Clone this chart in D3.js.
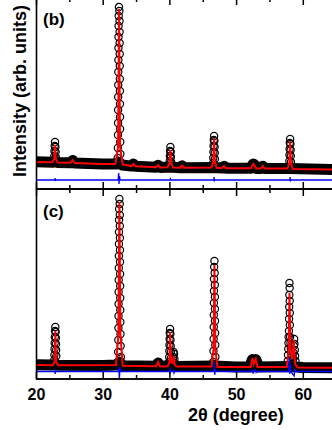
<!DOCTYPE html>
<html>
<head>
<meta charset="utf-8">
<script src="https://cdn.jsdelivr.net/npm/d3@7"></script>
<style>
  body { margin: 0; background: #fff; }
  svg { display: block; font-family: "Liberation Sans", Arial, sans-serif; font-weight: bold; }
</style>
</head>
<body>
<svg id="chart" width="332" height="430" viewBox="0 0 332 430"></svg>
<script>
// 2theta ticks (70 lies past the right edge of the crop)
const majorTicks = [20, 30, 40, 50, 60];
const minorTicks = [25, 35, 45, 55, 65];

// panel (b): [2theta, counts]
const bandB = [[20, 272], [22.5, 268], [22.85, 275], [23.2, 266], [25.2, 262], [25.5, 285], [25.8, 261],
  [30, 250], [32.0, 250], [32.45, 265], [32.9, 240], [34.3, 229], [34.6, 250], [34.9, 227],
  [38.0, 218], [38.3, 238], [38.6, 216], [40.15, 220], [41.6, 213], [41.9, 232], [42.2, 212],
  [46.7, 214], [47.9, 209], [48.2, 228], [48.5, 208], [52.2, 207], [52.45, 240], [52.6, 250],
  [52.75, 240], [53.0, 206], [53.7, 205], [54.0, 228], [54.3, 204], [58.1, 204], [65, 195], [70, 190]];
const obsB = [
  [22.85, 470], [22.80, 430], [22.91, 420], [22.77, 380], [22.94, 370], [22.75, 330], [22.96, 320], [22.73, 290],
  [32.44, 1820], [32.50, 1780], [32.40, 1730], [32.52, 1680], [32.38, 1630], [32.53, 1570], [32.37, 1520],
  [32.54, 1460], [32.36, 1410], [32.55, 1350], [32.35, 1290], [32.56, 1230], [32.34, 1170], [32.57, 1100],
  [32.33, 1040], [32.58, 980], [32.32, 920], [32.59, 850], [32.31, 790], [32.60, 720], [32.30, 660],
  [32.61, 600], [32.29, 540], [32.63, 470], [32.27, 410], [32.65, 350], [32.25, 310],
  [40.15, 420], [40.10, 380], [40.20, 370], [40.07, 330], [40.23, 320], [40.05, 280], [40.26, 270],
  [46.70, 530], [46.65, 490], [46.75, 480], [46.62, 430], [46.78, 420], [46.60, 370], [46.80, 360],
  [46.58, 310], [46.82, 300], [46.56, 260],
  [58.10, 500], [58.05, 460], [58.15, 450], [58.02, 400], [58.18, 390], [58.00, 340], [58.20, 330],
  [57.98, 280], [58.22, 270]];
const calcB = [[20, 270], [22.45, 267], [22.73, 300], [22.85, 440], [22.97, 300], [23.25, 266],
  [25.2, 262], [25.5, 290], [25.8, 261], [30, 250], [31.9, 250], [32.30, 420], [32.45, 1800],
  [32.60, 420], [33.0, 245], [34.3, 229], [34.6, 250], [34.9, 227], [38.0, 218], [38.3, 240],
  [38.6, 216], [39.75, 218], [40.03, 260], [40.15, 390], [40.27, 260], [40.55, 214], [41.6, 213],
  [41.9, 235], [42.2, 212], [46.3, 214], [46.58, 270], [46.70, 510], [46.82, 270], [47.1, 210],
  [47.9, 209], [48.2, 230], [48.5, 208], [52.2, 207], [52.6, 250], [53.0, 206], [53.7, 205],
  [54.0, 230], [54.3, 204], [57.7, 204], [57.98, 260], [58.10, 480], [58.22, 260], [58.5, 200],
  [65, 195], [70, 190]];
const diffB = [[20, 90], [22.8, 90], [22.85, 110], [22.9, 80], [22.95, 90], [32.3, 90], [32.4, 160],
  [32.45, 50], [32.52, 130], [32.6, 90], [40.1, 90], [40.15, 100], [40.2, 90], [46.65, 90],
  [46.7, 120], [46.75, 85], [46.8, 90], [58.05, 90], [58.1, 120], [58.15, 85], [58.2, 90], [70, 90]];

// panel (c): [2theta, counts]
const bandC = [[20, 142], [22.5, 139], [22.9, 150], [23.3, 138], [30, 134], [32.0, 140], [32.5, 170],
  [33.0, 133], [38.0, 127], [38.3, 160], [38.6, 126], [40.1, 135], [41.0, 124], [46.75, 130],
  [50, 120], [52.2, 121], [52.3, 170], [52.45, 195], [52.7, 188], [52.95, 195], [53.1, 170],
  [53.2, 120], [58.0, 125], [60, 115], [65, 112], [70, 110]];
const obsC = [
  [22.90, 520], [22.85, 480], [22.95, 470], [22.82, 420], [22.98, 410], [22.80, 360], [23.00, 350],
  [22.78, 300], [23.02, 290], [22.76, 240], [23.04, 230], [22.74, 190],
  [32.50, 1800], [32.55, 1750], [32.46, 1700], [32.56, 1640], [32.45, 1590], [32.57, 1530], [32.44, 1470],
  [32.58, 1410], [32.43, 1350], [32.59, 1290], [32.42, 1230], [32.60, 1170], [32.41, 1110], [32.61, 1050],
  [32.40, 990], [32.62, 930], [32.39, 870], [32.63, 810], [32.38, 750], [32.64, 690], [32.37, 630],
  [32.65, 570], [32.36, 510], [32.67, 450], [32.34, 390], [32.69, 330], [32.32, 270], [32.72, 220],
  [40.10, 500], [40.05, 460], [40.15, 450], [40.03, 400], [40.17, 390], [40.01, 340], [40.19, 330],
  [39.99, 280], [40.21, 270], [39.97, 220], [40.23, 210], [39.94, 170],
  [40.62, 270], [40.70, 250], [40.56, 220], [40.75, 200], [40.52, 170], [40.80, 160],
  [46.75, 1180], [46.71, 1120], [46.79, 1060], [46.69, 1000], [46.81, 940], [46.68, 880], [46.82, 820],
  [46.67, 760], [46.83, 700], [46.66, 640], [46.84, 580], [46.65, 520], [46.86, 460], [46.63, 400],
  [46.88, 340], [46.61, 280], [46.90, 220], [46.58, 170],
  [58.00, 960], [58.03, 910], [57.98, 840], [58.04, 780], [57.96, 720], [58.05, 660], [57.94, 600],
  [58.06, 540], [57.92, 480], [58.10, 420], [57.88, 420], [58.15, 360], [57.85, 360], [58.20, 300],
  [57.82, 300], [58.30, 250], [57.78, 240], [58.40, 220], [57.75, 180],
  [58.70, 400], [58.75, 350], [58.65, 330], [58.80, 290], [58.62, 260], [58.85, 230], [58.55, 200], [58.90, 180]];
const calcC = [[20, 140], [22.5, 138], [22.78, 170], [22.9, 480], [23.02, 170], [23.3, 137],
  [32.0, 140], [32.35, 450], [32.5, 1770], [32.65, 450], [33.0, 132], [38.0, 127], [38.3, 170],
  [38.6, 126], [39.75, 128], [40.0, 170], [40.1, 470], [40.25, 170], [40.5, 160], [40.65, 230],
  [40.8, 140], [41.1, 124], [46.3, 125], [46.62, 300], [46.75, 1140], [46.88, 300], [47.2, 121],
  [52.2, 120], [52.45, 210], [52.65, 150], [52.95, 200], [53.2, 119], [57.6, 120], [57.88, 300],
  [58.0, 860], [58.15, 300], [58.4, 200], [58.65, 390], [58.85, 150], [59.2, 115], [65, 112], [70, 110]];
const diffC = [[20, 75], [22.8, 75], [22.87, 50], [22.93, 95], [23.0, 75], [32.3, 75], [32.42, 120],
  [32.5, -10], [32.58, 110], [32.7, 75], [40.0, 75], [40.07, 50], [40.13, 110], [40.2, 75],
  [40.6, 75], [40.65, 95], [40.7, 60], [40.8, 75], [46.65, 75], [46.72, 170], [46.8, 40],
  [46.88, 90], [47.0, 75], [52.4, 75], [52.45, 90], [52.55, 60], [52.9, 90], [53.0, 65],
  [53.1, 75], [57.9, 75], [57.98, 210], [58.05, 50], [58.12, 150], [58.25, 70], [58.7, 30],
  [58.8, 100], [58.9, 75], [70, 75]];

const svg = d3.select("#chart");
const x = d3.scaleLinear().domain([20, 70]).range([36, 369.5]);

const panels = [
  { label: "(b)", top: -2, bottom: 189, band: bandB, obs: obsB, calc: calcB, diff: diffB, labels: false },
  { label: "(c)", top: 189, bottom: 379, band: bandC, obs: obsC, calc: calcC, diff: diffC, labels: true },
];

panels.forEach((p, i) => {
  const y = d3.scaleLinear().domain([0, (p.bottom - p.top) * 10]).range([p.bottom, p.top]);
  const line = d3.line().x((d) => x(d[0])).y((d) => y(d[1]));

  svg.append("clipPath").attr("id", "clip" + i)
    .append("rect")
    .attr("x", x(20)).attr("y", p.top)
    .attr("width", x(70) - x(20)).attr("height", p.bottom - p.top);

  const g = svg.append("g").attr("clip-path", `url(#clip${i})`);

  // observed points along the background form a thick band
  g.append("path").datum(p.band)
    .attr("d", line).attr("fill", "none").attr("stroke", "#000")
    .attr("stroke-width", 11).attr("stroke-linejoin", "round");

  g.selectAll(".obs").data(p.obs).enter().append("circle")
    .attr("cx", (d) => x(d[0])).attr("cy", (d) => y(d[1]))
    .attr("r", 3.6).attr("fill", "none").attr("stroke", "#000").attr("stroke-width", 1.2);

  g.append("path").datum(p.calc)
    .attr("d", line).attr("fill", "none").attr("stroke", "#ff0000").attr("stroke-width", 2);

  g.append("path").datum(p.diff)
    .attr("d", line).attr("fill", "none").attr("stroke", "#0000ff").attr("stroke-width", 1.3);

  // frame with inward ticks
  const bottomAxis = d3.axisBottom(x).tickValues(majorTicks).tickSize(-7).tickSizeOuter(0).tickPadding(10)
    .tickFormat(p.labels ? d3.format("d") : "");
  const bottomMinor = d3.axisBottom(x).tickValues(minorTicks).tickSize(-4).tickSizeOuter(0).tickFormat("");
  const topAxis = d3.axisTop(x).tickValues(majorTicks).tickSize(-7).tickSizeOuter(0).tickFormat("");
  const topMinor = d3.axisTop(x).tickValues(minorTicks).tickSize(-4).tickSizeOuter(0).tickFormat("");
  const leftAxis = d3.axisLeft(y).tickValues([]).tickSizeOuter(0);

  [[bottomAxis, p.bottom], [bottomMinor, p.bottom], [topAxis, p.top], [topMinor, p.top]].forEach(([ax, yy]) => {
    const a = svg.append("g").attr("transform", `translate(0,${yy})`).call(ax);
    a.select(".domain").attr("d", `M${x(20)},0H${x(70)}`);
    a.selectAll("path, line").attr("stroke", "#000").attr("stroke-width", 1.5);
    a.selectAll("text").attr("fill", "#000").attr("font-size", 16)
      .attr("font-family", '"Liberation Sans", Arial, sans-serif').attr("font-weight", "bold");
  });
  svg.append("g").attr("transform", `translate(${x(20)},0)`).call(leftAxis)
    .selectAll("path").attr("stroke", "#000").attr("stroke-width", 1.6);

  svg.append("text")
    .attr("x", 43).attr("y", p.top + (i === 0 ? 27 : 28))
    .attr("font-size", 17).text(p.label);
});

svg.append("text")
  .attr("x", 236).attr("y", 421).attr("text-anchor", "middle")
  .attr("font-size", 18).text("2θ (degree)");

svg.append("text")
  .attr("transform", "translate(26,177) rotate(-90)")
  .attr("font-size", 18).text("Intensity (arb. units)");
</script>
</body>
</html>
